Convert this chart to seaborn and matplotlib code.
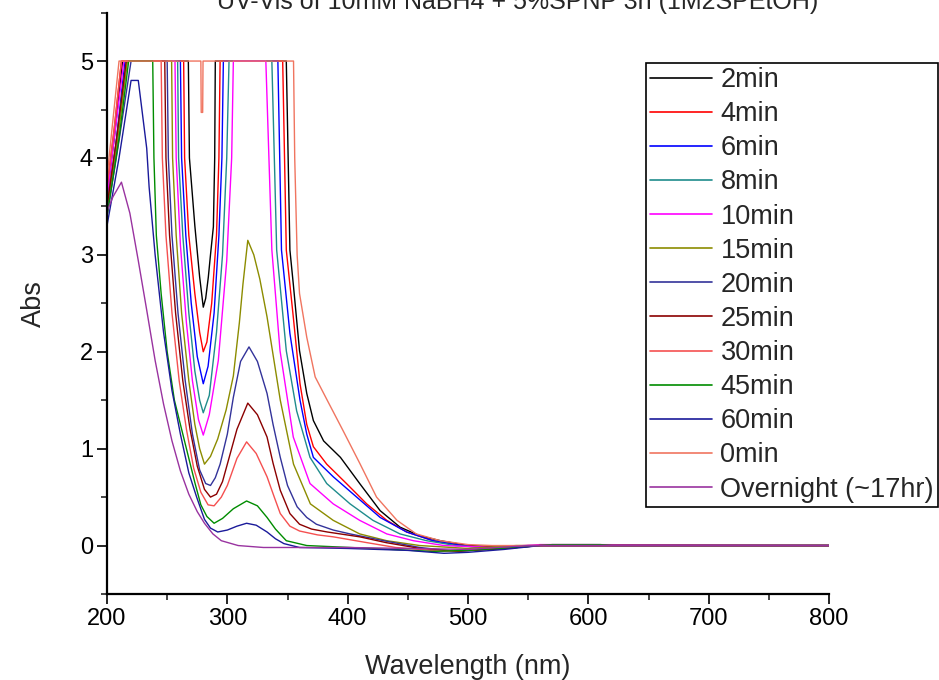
import numpy as np
import pandas as pd
import matplotlib
matplotlib.use("Agg")
import matplotlib.pyplot as plt
import seaborn as sns
from matplotlib.ticker import MultipleLocator

# ---------------- data ----------------
labels = ["2min", "4min", "6min", "8min", "10min", "15min", "20min", "25min",
          "30min", "45min", "60min", "0min", "Overnight (~17hr)"]
colors = ["#000000", "#FF0000", "#0000FF", "#1F8C8C", "#FF00FF", "#8C8C00",
          "#33339A", "#8B0000", "#F55050", "#008C00", "#1A1A9A", "#F07560",
          "#9933A0"]

wl_2 = [200, 206, 213, 267.6, 268.5, 273, 277, 280, 282, 284.2, 286, 288.4, 289.5, 290, 349, 352,
        354.8, 360, 366, 371.5, 380, 394, 410, 427, 443.5, 460, 477, 500, 520, 560, 800]
ab_2 = [3.6, 4.2, 5.0, 5.0, 4.0, 3.3, 2.77, 2.46, 2.55, 2.77, 3.0, 3.29, 4.0, 5.0, 5.0, 3.05,
        2.7, 2.01, 1.57, 1.29, 1.08, 0.91, 0.64, 0.36, 0.19, 0.10, 0.05, 0.0, -0.01, 0.0, 0.0]

wl_4 = [200, 206, 212, 263.7, 264.5, 268, 273, 277, 280, 283, 287, 291, 293, 294, 346, 349,
        354.8, 360.4, 366, 371.5, 382.6, 399, 415.8, 432.5, 449, 471, 495, 520, 560, 800]
ab_4 = [3.7, 4.3, 5.0, 5.0, 4.0, 3.2, 2.6, 2.2, 2.0, 2.1, 2.5, 3.2, 4.0, 5.0, 5.0, 3.05,
        2.36, 1.67, 1.25, 1.02, 0.84, 0.64, 0.43, 0.26, 0.14, 0.05, 0.0, -0.02, 0.0, 0.0]

wl_6 = [200, 207, 215, 261, 262, 265.5, 270, 275, 280, 284, 289, 293, 295.5, 296.7, 342, 345,
        352, 360.4, 366, 371.5, 388, 407.5, 427, 449, 471, 495, 520, 560, 800]
ab_6 = [3.5, 4.1, 5.0, 5.0, 4.0, 3.2, 2.5, 1.95, 1.67, 1.85, 2.4, 3.2, 4.0, 5.0, 5.0, 3.05,
        2.19, 1.5, 1.15, 0.91, 0.71, 0.5, 0.29, 0.14, 0.05, 0.0, -0.03, 0.0, 0.0]

wl_8 = [200, 208, 216, 258.7, 259.5, 263, 268, 273, 277, 280, 285, 291, 296, 299.5, 301.4, 337,
        341, 349, 357.6, 368.7, 382.6, 402, 421, 443.5, 465.6, 490, 520, 560, 800]
ab_8 = [3.5, 4.2, 5.0, 5.0, 4.0, 3.2, 2.4, 1.8, 1.5, 1.37, 1.55, 2.2, 3.0, 4.0, 5.0, 5.0,
        3.05, 2.01, 1.39, 0.91, 0.64, 0.43, 0.26, 0.12, 0.05, 0.0, -0.03, 0.0, 0.0]

wl_10 = [200, 207, 214, 256.5, 257.5, 261, 266, 271, 276, 280, 285, 292.5, 299.5, 303.6, 305,
         332, 337, 343.8, 354.8, 368.7, 388, 410, 432.5, 454.6, 480, 520, 560, 600, 800]
ab_10 = [3.6, 4.3, 5.0, 5.0, 4.0, 3.1, 2.3, 1.7, 1.3, 1.14, 1.35, 1.91, 2.94, 4.0, 5.0,
         5.0, 3.05, 2.01, 1.12, 0.64, 0.43, 0.26, 0.12, 0.05, 0.0, -0.02, 0.01, 0.01, 0.0]

wl_15 = [200, 208, 217, 253.7, 254.5, 257.5, 262, 268, 273, 277, 281, 286, 292, 299, 305, 310,
         313, 317, 322, 327, 333, 344, 355, 369, 388, 410, 432.5, 460, 500, 540, 800]
ab_15 = [3.5, 4.1, 5.0, 5.0, 4.0, 3.2, 2.4, 1.7, 1.25, 1.0, 0.84, 0.92, 1.1, 1.4, 1.75, 2.3,
         2.7, 3.15, 3.0, 2.75, 2.36, 1.5, 0.84, 0.43, 0.26, 0.12, 0.05, 0.0, -0.03, 0.0, 0.0]

wl_20 = [200, 209, 220, 250, 251, 254, 259, 265, 271, 277, 282, 286, 290, 294, 300, 305, 311,
         318, 325, 333, 338, 344, 350, 358, 366, 374, 388, 402, 430, 460, 490, 530, 560, 800]
ab_20 = [3.4, 4.1, 5.0, 5.0, 4.0, 3.2, 2.4, 1.7, 1.15, 0.78, 0.64, 0.62, 0.7, 0.84, 1.15, 1.53,
         1.9, 2.05, 1.9, 1.57, 1.25, 0.91, 0.62, 0.4, 0.29, 0.22, 0.16, 0.12, 0.05, -0.02,
         -0.06, -0.03, 0.0, 0.0]

wl_25 = [200, 208, 216, 248, 249, 252, 257, 263, 269, 275, 281, 286, 291, 296, 300, 308, 317,
         325, 333, 338, 344, 352, 360, 370, 383, 410, 432, 460, 490, 530, 560, 800]
ab_25 = [3.5, 4.2, 5.0, 5.0, 4.0, 3.2, 2.4, 1.7, 1.2, 0.82, 0.58, 0.5, 0.53, 0.66, 0.84, 1.2,
         1.47, 1.35, 1.12, 0.85, 0.57, 0.33, 0.22, 0.17, 0.14, 0.09, 0.03, -0.03, -0.06,
         -0.03, 0.0, 0.0]

wl_30 = [200, 206, 212, 245, 246, 249, 254, 260, 266, 272, 278, 284, 289, 295, 300, 308, 316,
         324, 333, 339, 344, 352, 360, 375, 388, 416, 440, 480, 520, 560, 800]
ab_30 = [3.7, 4.3, 5.0, 5.0, 4.0, 3.2, 2.4, 1.7, 1.2, 0.8, 0.55, 0.42, 0.41, 0.5, 0.62, 0.9,
         1.07, 0.95, 0.71, 0.5, 0.33, 0.2, 0.15, 0.11, 0.09, 0.03, -0.02, -0.06, -0.03, 0.0, 0.0]

wl_45 = [200, 210, 218, 238, 239, 241, 245, 250, 256, 262, 268, 273, 278, 283, 289, 296, 305,
         316, 325, 333, 340, 349, 366, 420, 470, 500, 540, 570, 610, 620, 800]
ab_45 = [3.4, 4.2, 5.0, 5.0, 4.0, 3.2, 2.6, 2.0, 1.5, 1.2, 0.9, 0.65, 0.42, 0.3, 0.23, 0.28,
         0.38, 0.46, 0.41, 0.29, 0.17, 0.05, 0.0, -0.03, -0.06, -0.05, -0.02, 0.01, 0.01, 0.0, 0.0]

wl_60 = [200, 210, 220, 226, 229, 233, 235, 240, 247, 254, 261, 268, 274.5, 281, 286, 292,
         300, 308, 316, 324, 333, 340, 347, 360, 400, 450, 480, 500, 530, 560, 800]
ab_60 = [3.3, 4.0, 4.8, 4.8, 4.5, 4.1, 3.7, 3.0, 2.2, 1.6, 1.15, 0.75, 0.5, 0.27, 0.18, 0.14,
         0.16, 0.2, 0.23, 0.21, 0.14, 0.07, 0.02, -0.02, -0.03, -0.05, -0.08, -0.07, -0.04, 0.0, 0.0]

wl_0 = [200, 205, 210, 278, 278.3, 279.5, 279.8, 355, 356, 358, 360, 366, 373, 383, 396, 410,
        424, 441, 457, 477, 500, 520, 800]
ab_0 = [3.8, 4.4, 5.0, 5.0, 4.47, 4.47, 5.0, 5.0, 4.0, 3.0, 2.6, 2.15, 1.74, 1.5, 1.19, 0.85,
        0.5, 0.26, 0.12, 0.05, 0.01, 0.0, 0.0]

wl_on = [200, 205, 212, 219, 226, 233, 240, 247, 254, 261, 268, 275, 281, 288, 295, 309, 330,
         400, 450, 500, 550, 800]
ab_on = [3.45, 3.6, 3.75, 3.43, 2.94, 2.43, 1.91, 1.46, 1.08, 0.77, 0.53, 0.35, 0.23, 0.12,
         0.05, 0.0, -0.02, -0.02, -0.03, -0.04, 0.0, 0.0]

x_ticks = [200, 300, 400, 500, 600, 700, 800]
y_ticks = [0, 1, 2, 3, 4, 5]

# ---------------- build long table ----------------
series_wl = [wl_2, wl_4, wl_6, wl_8, wl_10, wl_15, wl_20, wl_25, wl_30, wl_45, wl_60, wl_0, wl_on]
series_ab = [ab_2, ab_4, ab_6, ab_8, ab_10, ab_15, ab_20, ab_25, ab_30, ab_45, ab_60, ab_0, ab_on]
frames = []
for lab, w, a in zip(labels, series_wl, series_ab):
    frames.append(pd.DataFrame({"Wavelength": w, "Abs": a, "series": lab}))
df = pd.concat(frames, ignore_index=True)
palette = dict(zip(labels, colors))

# ---------------- plot ----------------
sns.set_theme(style="ticks")
plt.rcParams["font.family"] = ["Liberation Sans", "DejaVu Sans"]

fig = plt.figure(figsize=(9.39, 6.8), dpi=100)
ax = fig.add_axes([107 / 939, 86 / 680, 722 / 939, 581.4 / 680])

sns.lineplot(data=df, x="Wavelength", y="Abs", hue="series", hue_order=labels,
             palette=palette, sort=False, estimator=None, linewidth=1.0, ax=ax,
             legend=True)

ax.set_xlim(200, 800)
ax.set_ylim(-0.5, 5.5)
ax.set_xticks(x_ticks)
ax.set_yticks(y_ticks)
ax.xaxis.set_minor_locator(MultipleLocator(50))
ax.yaxis.set_minor_locator(MultipleLocator(0.5))
ax.tick_params(axis="both", which="major", direction="out", length=7, width=1.2,
               labelsize=17, colors="black", pad=3)
ax.tick_params(axis="both", which="minor", direction="out", length=4, width=1.2)
for s in ["top", "right"]:
    ax.spines[s].set_visible(False)
for s in ["left", "bottom"]:
    ax.spines[s].set_linewidth(1.6)
    ax.spines[s].set_color("black")

ax.set_xlabel("Wavelength (nm)", fontsize=19.5, labelpad=17)
ax.set_ylabel("Abs", fontsize=19.5, labelpad=24)

handles, labs = ax.get_legend_handles_labels()
leg = ax.legend(handles, labs, loc="upper left",
                bbox_to_anchor=(646 / 939, 1 - 63 / 680), bbox_transform=fig.transFigure,
                fontsize=19.5, frameon=True, fancybox=False, edgecolor="black",
                framealpha=1, borderpad=0.15, labelspacing=0.3, handlelength=2.3,
                handletextpad=0.3, borderaxespad=0)
leg.get_frame().set_linewidth(1.2)
for h in leg.get_lines():
    h.set_linewidth(1.2)

fig.text(518 / 939, 1 - 9 / 680, "UV-Vis of 10mM NaBH4 + 5%SPNP 3h (1M2SPEtOH)",
         ha="center", va="baseline", fontsize=18)

fig.savefig("out.png", dpi=100)
